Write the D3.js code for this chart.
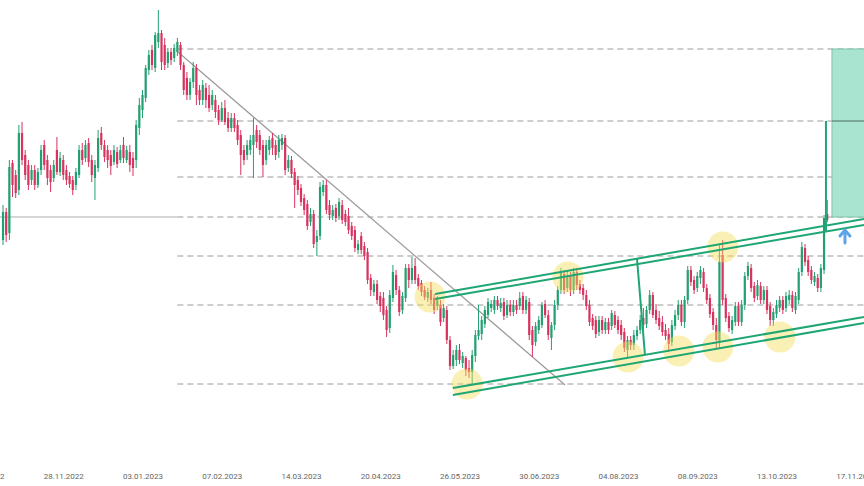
<!DOCTYPE html>
<html><head><meta charset="utf-8">
<script src="https://cdn.jsdelivr.net/npm/d3@7"></script>
<style>html,body{margin:0;padding:0;background:#fff;overflow:hidden}</style>
</head><body><svg id="c" width="864" height="486"></svg>
<script>
// ---- data (bar index starts at firstIndex) ----
const firstIndex = 6;
const opens = [
260,288,267,337,325,310,367,345,335,320,
330,315,330,355,340,330,322,350,328,340,
330,324,320,315,325,350,342,357,340,322,
332,367,355,350,345,338,348,340,355,340,
348,342,340,372,390,402,430,450,432,458,
467,455,437,448,442,448,455,435,422,405,
418,432,410,400,412,405,395,400,390,380,
392,382,372,382,375,365,350,345,350,355,
370,365,355,340,350,362,355,348,355,362,
332,340,328,320,312,302,296,278,286,258,
264,308,315,295,284,292,284,295,286,284,
274,270,250,264,254,248,222,208,216,204,
202,190,172,202,225,210,190,202,232,220,
234,222,217,210,202,210,202,194,195,182,
190,160,134,140,150,137,142,132,128,144,
164,166,176,185,192,190,200,192,198,185,
195,188,195,194,204,190,198,170,158,170,
175,196,185,162,175,195,210,226,212,224,
210,228,216,212,205,195,182,180,168,180,
170,178,174,185,180,175,168,150,160,155,
164,170,182,176,190,205,190,182,178,170,
166,158,174,185,195,178,200,230,220,212,
222,228,212,202,188,175,158,245,202,184,
170,178,194,178,195,224,232,214,204,214,
200,210,194,180,186,192,200,192,200,205,
190,200,228,252,240,230,218,222,212,230,
286];
const highs = [
295,292,340,340,330,375,378,350,340,335,
335,332,355,360,345,335,340,363,348,345,
335,328,324,332,355,357,360,362,345,340,
370,373,360,355,350,355,353,355,363,354,
355,348,380,402,410,435,450,455,468,490,
470,462,452,452,456,462,458,438,428,422,
438,436,415,420,417,415,410,405,395,398,
400,388,387,387,380,370,355,360,365,382,
375,370,360,360,364,367,360,365,366,365,
345,344,332,324,316,306,300,292,290,270,
318,320,320,300,295,296,302,300,290,292,
278,274,260,268,258,252,226,220,220,208,
208,194,210,235,230,214,208,236,236,243,
242,226,220,214,212,218,206,204,200,196,
194,164,150,155,156,148,144,140,150,170,
195,184,194,202,200,204,204,202,202,200,
200,200,200,208,208,204,202,174,178,184,
198,200,190,178,200,214,232,230,230,228,
232,232,220,216,210,200,186,184,184,184,
182,182,190,189,184,180,172,164,164,170,
174,185,192,194,210,208,196,189,184,176,
172,180,190,200,200,204,234,234,224,228,
234,232,216,206,192,182,255,260,206,188,
184,198,198,200,228,238,236,218,220,218,
214,214,198,192,200,204,204,208,210,209,
208,232,258,256,244,234,228,226,236,285,
300];
const lows = [
255,258,260,303,302,305,335,320,310,315,
310,312,325,330,315,308,318,325,324,320,
315,312,305,310,322,335,338,333,318,300,
328,350,338,332,325,335,332,337,337,337,
328,324,332,365,382,398,425,430,428,452,
430,430,432,435,438,444,430,405,400,400,
412,395,395,395,392,388,390,382,375,378,
375,368,368,368,355,325,335,340,345,322,
352,345,323,335,345,345,340,342,350,325,
328,322,292,305,294,285,270,274,252,244,
260,304,286,280,280,278,280,276,274,266,
260,248,246,246,240,216,204,204,196,188,
180,163,167,198,205,184,186,198,212,216,
216,210,204,200,198,196,186,190,174,178,
156,130,131,134,136,132,124,122,115,138,
160,160,172,182,188,186,190,188,180,182,
184,184,186,190,186,186,160,143,154,166,
172,182,160,150,170,190,206,206,208,204,
206,210,206,200,190,174,170,162,164,166,
166,166,170,172,166,160,148,143,150,150,
160,166,170,172,186,182,176,170,164,160,
148,154,170,180,174,172,196,214,206,208,
216,208,196,182,170,152,152,195,178,168,
166,174,174,174,190,220,208,198,200,196,
196,186,174,174,182,188,186,188,196,188,
186,196,224,234,224,216,214,208,208,226,
278];
const closes = [
288,265,333,315,307,367,340,325,315,330,
315,328,350,335,322,318,335,328,342,325,
320,316,310,328,350,340,355,338,325,335,
362,355,343,340,334,350,336,350,342,350,
335,332,375,395,405,432,445,435,465,467,
438,435,448,440,452,458,435,410,405,418,
432,405,400,415,400,392,405,388,380,392,
378,372,382,372,360,345,340,355,360,365,
358,350,335,355,360,352,345,360,362,330,
340,326,315,310,298,290,274,286,256,264,
313,315,290,285,290,282,298,280,278,270,
264,252,256,250,244,220,210,216,200,194,
185,170,205,228,210,188,204,232,220,232,
220,214,208,203,208,200,190,200,178,192,
160,134,145,150,140,144,130,128,145,165,
170,180,190,198,196,200,194,197,184,195,
188,195,190,202,190,200,165,155,174,180,
195,185,165,175,195,210,228,210,224,210,
228,215,210,205,194,178,174,166,180,170,
178,170,187,175,170,165,152,160,155,165,
170,180,175,190,205,185,180,174,168,164,
156,175,185,195,178,200,230,218,210,224,
230,212,200,186,175,160,238,200,182,172,
180,194,178,195,224,234,212,202,215,200,
210,190,180,188,195,200,190,204,205,192,
204,228,253,238,228,220,224,212,232,282,
280];

const tickIndex  = [0,25,50,75,100,125,150,175,200,225,250,275];
const tickLabels = ["24.10.2022","28.11.2022","03.01.2023","07.02.2023","14.03.2023","20.04.2023",
                    "26.05.2023","30.06.2023","04.08.2023","08.09.2023","13.10.2023","17.11.2023"];

// drawings, in (bar index, price)
const levelStart = 61;
const levels = [451,379,323,283,244,195,116];
const priceLine = 283;
const trendLine = [[61.2,448],[183.3,115]];
const channelLines = [
  [[142.3,206],[277.6,281]],
  [[142.3,201],[277.6,275]],
  [[147.9,112],[277.6,183]],
  [[147.9,105],[277.6,177]]
];
const measureLine = [[206,241],[208.5,145]];
const breakoutLine = [[265.6,379],[265.6,268]];
const targetBox = {x0:267.5, x1:280, top:451, bottom:283, mid:379};
const touchPoints = [[140.7,203],[152.4,116],[184.2,223],[203.2,143],[219.2,149],[231.5,153],[233.1,253],[251.1,163]];
const arrowPoint = [271.6,264];

// ---- drawing ----
const W = 864, H = 486;
const svg = d3.select("#c");
const x = d3.scaleLinear().domain([0,275]).range([-16,855.75]);
const y = d3.scaleLinear().domain([14,500]).range([486,0]);

const candles = opens.map((o,k)=>({i:firstIndex+k,o,h:highs[k],l:lows[k],c:closes[k]}));

// horizontal levels
svg.append("line").attr("x1",x(0)).attr("x2",x(levelStart)).attr("y1",y(priceLine)).attr("y2",y(priceLine))
  .attr("stroke","#c9c9c9").attr("stroke-width",1.5);
svg.selectAll("line.lvl").data(levels).join("line").attr("class","lvl")
  .attr("x1",x(levelStart)).attr("x2",W).attr("y1",d=>y(d)).attr("y2",d=>y(d))
  .attr("stroke","#9a9a9a").attr("stroke-width",1).attr("stroke-dasharray","6,4");

// target box
svg.append("rect").attr("x",x(targetBox.x0)).attr("y",y(targetBox.top))
  .attr("width",x(targetBox.x1)-x(targetBox.x0)).attr("height",y(targetBox.bottom)-y(targetBox.top))
  .attr("fill","#a9e4d0").attr("stroke","#7cc4a8").attr("stroke-width",1);
svg.append("line").attr("x1",x(targetBox.x0)).attr("x2",W).attr("y1",y(targetBox.mid)).attr("y2",y(targetBox.mid))
  .attr("stroke","#4d6b60").attr("stroke-width",1);

// trend line
const ln = d3.line().x(d=>x(d[0])).y(d=>y(d[1]));
svg.append("path").attr("d",ln(trendLine)).attr("stroke","#9b9b9b").attr("stroke-width",1.2).attr("fill","none");

// candles
const up = "#23a071", dn = "#d8335f";
const g = svg.append("g");
g.selectAll("line.w").data(candles).join("line").attr("class","w")
  .attr("x1",d=>x(d.i)).attr("x2",d=>x(d.i))
  .attr("y1",d=>y(Math.max(d.h,d.o,d.c))).attr("y2",d=>y(Math.min(d.l,d.o,d.c)))
  .attr("stroke",d=>d.c>=d.o?up:dn).attr("stroke-width",1);
g.selectAll("rect.b").data(candles).join("rect").attr("class","b")
  .attr("x",d=>x(d.i)-1.1).attr("width",2.2)
  .attr("y",d=>y(Math.max(d.o,d.c))).attr("height",d=>Math.max(1,Math.abs(y(d.o)-y(d.c))))
  .attr("fill",d=>d.c>=d.o?up:dn);

// touch circles
svg.selectAll("circle.t").data(touchPoints).join("circle").attr("class","t")
  .attr("cx",d=>x(d[0])).attr("cy",d=>y(d[1])).attr("r",15.5)
  .attr("fill","rgba(243,222,90,0.45)");

// channel + measure lines
const green = "#1ea673";
channelLines.forEach(l=>svg.append("path").attr("d",ln(l)).attr("stroke",green).attr("stroke-width",2).attr("fill","none"));
svg.append("path").attr("d",ln(measureLine)).attr("stroke",green).attr("stroke-width",2).attr("fill","none");
svg.append("path").attr("d",ln(breakoutLine)).attr("stroke",green).attr("stroke-width",2).attr("fill","none");

// arrow
const ax = x(arrowPoint[0]), ay = y(arrowPoint[1]);
svg.append("path").attr("d",`M${ax},${ay+7}L${ax},${ay-5}M${ax-5},${ay}L${ax},${ay-6}L${ax+5},${ay}`)
  .attr("stroke","#5ea4e8").attr("stroke-width",3).attr("fill","none").attr("stroke-linecap","round");

// axis
const axis = d3.axisBottom(x).tickValues(tickIndex).tickFormat((d,k)=>tickLabels[k]).tickSize(0);
const ag = svg.append("g").attr("transform","translate(0,470)").call(axis);
ag.select(".domain").remove();
ag.selectAll("text").attr("fill","#666").style("font-family","'Liberation Sans Narrow','Roboto',sans-serif").style("font-size","8px");
</script></body></html>
